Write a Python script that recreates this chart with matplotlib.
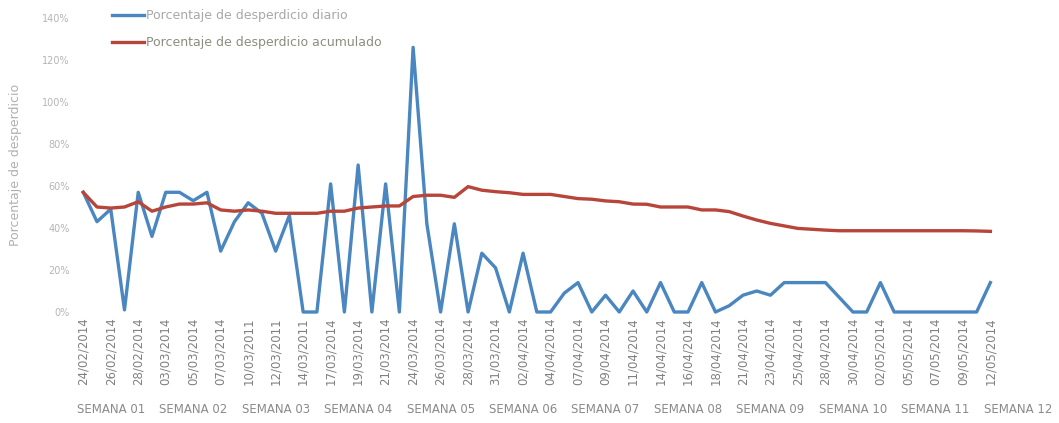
import matplotlib
matplotlib.use("Agg")
import matplotlib.pyplot as plt
import matplotlib.transforms as mtransforms

# fechas (lunes a sabado), etiqueta cada 2 dias
fechas = ["24/02/2014", "26/02/2014", "28/02/2014", "03/03/2014", "05/03/2014",
          "07/03/2014", "10/03/2011", "12/03/2011", "14/03/2011", "17/03/2014",
          "19/03/2014", "21/03/2014", "24/03/2014", "26/03/2014", "28/03/2014",
          "31/03/2014", "02/04/2014", "04/04/2014", "07/04/2014", "09/04/2014",
          "11/04/2014", "14/04/2014", "16/04/2014", "18/04/2014", "21/04/2014",
          "23/04/2014", "25/04/2014", "28/04/2014", "30/04/2014", "02/05/2014",
          "05/05/2014", "07/05/2014", "09/05/2014", "12/05/2014"]

semanas = ["SEMANA 01", "SEMANA 02", "SEMANA 03", "SEMANA 04", "SEMANA 05",
           "SEMANA 06", "SEMANA 07", "SEMANA 08", "SEMANA 09", "SEMANA 10",
           "SEMANA 11", "SEMANA 12"]

# porcentaje de desperdicio diario (%)
diario = [57, 43, 49, 1, 57, 36, 57, 57, 53, 57, 29, 43, 52, 47, 29, 46, 0, 0,
          61, 0, 70, 0, 61, 0, 126, 42, 0, 42, 0, 28, 21, 0, 28, 0, 0, 9, 14, 0,
          8, 0, 10, 0, 14, 0, 0, 14, 0, 3, 8, 10, 8, 14, 14, 14, 14, 7, 0, 0,
          14, 0, 0, 0, 0, 0, 0, 0, 14]

# porcentaje de desperdicio acumulado (%)
acumulado = [57, 50, 49.5, 50, 52.5, 48, 50, 51.4, 51.4, 52, 48.6, 48, 48.6, 48,
             47, 47, 47, 47, 48, 48, 49.5, 50, 50.5, 50.5, 55, 55.6, 55.6, 54.6,
             59.7, 58, 57.3, 56.8, 56, 56, 56, 55, 54, 53.7, 52.9, 52.5, 51.4,
             51.3, 50, 50, 50, 48.6, 48.6, 47.8, 45.7, 43.8, 42.2, 41, 39.8,
             39.4, 39, 38.7, 38.7, 38.7, 38.7, 38.7, 38.7, 38.7, 38.7, 38.7,
             38.7, 38.6, 38.4]

dias_por_semana = 6

fig = plt.figure(figsize=(10.59, 4.23), dpi=100)
W, H = 1059, 423
ax = fig.add_axes([75 / W, 1 - 312 / H, (1000 - 75) / W, (312 - 18) / H])

x = list(range(len(diario)))
ax.plot(x, diario, color="#4a86c0", lw=2.4, clip_on=False,
        label="Porcentaje de desperdicio diario")
ax.plot(x, acumulado, color="#b8453a", lw=2.4, clip_on=False,
        label="Porcentaje de desperdicio acumulado")

ax.set_xlim(-0.6, 66.7)
ax.set_ylim(0, 140)
ax.set_yticks(range(0, 141, 20))
ax.set_yticklabels([f"{v}%" for v in range(0, 141, 20)], fontsize=7, color="#b5b5b5")

ax.set_xticks(x[::2])
ax.set_xticklabels(fechas, rotation=90, fontsize=8.5, color="#808080")
ax.tick_params(axis="both", length=0, pad=4)

for s in ax.spines.values():
    s.set_visible(False)

ax.set_ylabel("Porcentaje de desperdicio", fontsize=9, color="#b0b0b0", labelpad=14)

# etiquetas de semana
trans = mtransforms.blended_transform_factory(ax.transData, ax.transAxes)
for k, sem in enumerate(semanas):
    ax.text(2 + k * dias_por_semana, -0.333, sem, transform=trans, ha="center",
            va="center", fontsize=8.5, color="#8a8a8a")

leg = fig.legend(loc="upper left", bbox_to_anchor=(106 / W, 1 - 3 / H), frameon=False,
                 fontsize=9, handlelength=2.5, handletextpad=0.2, labelspacing=1.1,
                 borderpad=0)
for t, c in zip(leg.get_texts(), ["#a8a8a8", "#8c8c80"]):
    t.set_color(c)

fig.savefig("out.png", dpi=100)
